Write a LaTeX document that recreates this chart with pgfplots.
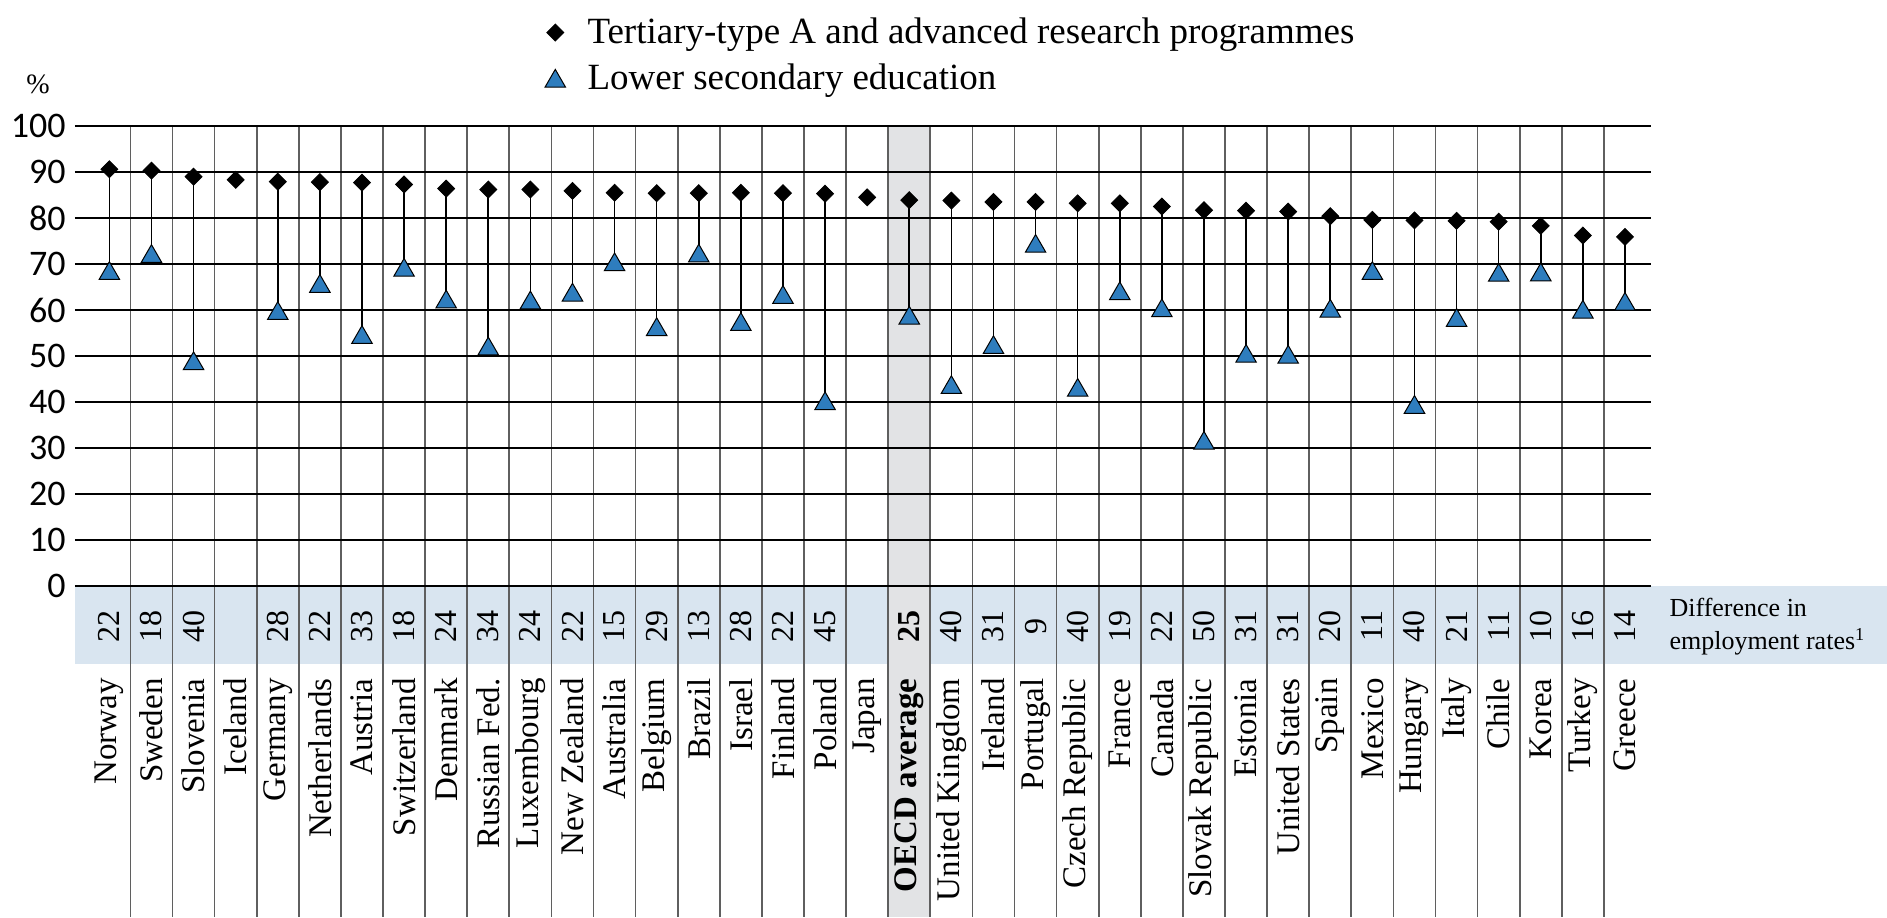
\documentclass[border=0pt]{standalone}
\usepackage{pgfplots}
\pgfplotsset{compat=1.18}
\usepackage{pgfplotstable}
\usepackage{fontspec}
\setmainfont{Liberation Serif}
\newfontfamily\tickfont{Carlito}
\definecolor{tri}{RGB}{46,125,190}
\definecolor{bandc}{RGB}{217,229,240}
\definecolor{colc}{RGB}{226,227,229}
\definecolor{sepc}{RGB}{95,95,95}

\pgfplotstableread{
x ter low diff
0 90.6 68.6 22
1 90.3 72.3 18
2 89.0 49.0 40
3 88.3 nan nan
4 87.9 59.9 28
5 87.8 65.8 22
6 87.7 54.7 33
7 87.3 69.3 18
8 86.4 62.4 24
9 86.2 52.2 34
10 86.2 62.2 24
11 85.9 63.9 22
12 85.5 70.5 15
13 85.4 56.4 29
14 85.4 72.4 13
15 85.5 57.5 28
16 85.4 63.4 22
17 85.3 40.3 45
18 84.5 nan nan
19 83.9 58.9 25
20 83.8 43.8 40
21 83.5 52.5 31
22 83.5 74.5 9
23 83.2 43.2 40
24 83.2 64.2 19
25 82.5 60.5 22
26 81.7 31.7 50
27 81.6 50.6 31
28 81.4 50.4 31
29 80.4 60.4 20
30 79.6 68.6 11
31 79.5 39.5 40
32 79.4 58.4 21
33 79.2 68.2 11
34 78.3 68.3 10
35 76.2 60.2 16
36 75.9 61.9 14
}\datatab

\begin{document}
\begin{tikzpicture}
\begin{axis}[
  set layers,
  scale only axis, width=788pt, height=230pt,
  xmin=-0.817, xmax=36.62, ymin=0, ymax=100,
  clip=false,
  axis line style={draw=none},
  major tick length=0pt,
  ytick={0,10,...,100},
  ymajorgrids,
  grid style={black, line width=1.1pt},
  xtick={0,...,36},
  xticklabels={Norway, Sweden, Slovenia, Iceland, Germany, Netherlands, Austria, Switzerland, Denmark, Russian Fed., Luxembourg, New Zealand, Australia, Belgium, Brazil, Israel, Finland, Poland, Japan, {\bfseries OECD average}, United Kingdom, Ireland, Portugal, Czech Republic, France, Canada, Slovak Republic, Estonia, United States, Spain, Mexico, Hungary, Italy, Chile, Korea, Turkey, Greece},
  xticklabel style={rotate=90, anchor=east, inner sep=0pt, font=\fontsize{16.5}{18}\selectfont},
  xticklabel shift=46pt,
  yticklabel style={font=\tickfont\fontsize{18}{20}\selectfont, inner sep=0pt},
  yticklabel shift=4.5pt,
  /pgf/number format/assume math mode=true,
  legend style={at={(0.298,1.244)}, anchor=north west, draw=none, fill=none,
    inner sep=0pt, row sep=4.5pt, font=\fontsize{18.5}{22}\selectfont,
    /tikz/every odd column/.append style={column sep=9pt}},
  legend cell align=left,
]
\begin{pgfonlayer}{axis background}
  \fill[bandc] (axis cs:-0.817,0) rectangle (axis cs:42.224,-16.96);
  \fill[colc] (axis cs:18.5,100) rectangle (axis cs:19.5,-71.96);
  \pgfplotsinvokeforeach{0,...,35}{
    \draw[sepc, line width=0.85pt] (axis cs:#1+0.5,100) -- (axis cs:#1+0.5,-71.96);
  }
\end{pgfonlayer}

\addplot[forget plot, draw=none, mark=none,
  error bars/.cd, y dir=plus, y explicit, error mark=none,
  error bar style={black, line width=0.8pt}]
  table[x=x, y=low, y error expr=\thisrow{ter}-\thisrow{low}] {\datatab};

\addplot[only marks, mark=square*, mark size=3pt,
  mark options={rotate=45, fill=black, draw=black}]
  table[x=x, y=ter] {\datatab};
\addlegendentry{Tertiary-type A and advanced research programmes}

\addplot[only marks, mark=triangle*, mark size=5.9pt,
  mark options={fill=tri, draw=black, line width=0.5pt, yshift=-1.5pt}]
  table[x=x, y=low] {\datatab};
\addlegendentry{Lower secondary education}

\addplot[forget plot, only marks, mark=*, mark size=0pt,
  mark options={draw opacity=0, fill opacity=0},
  point meta=explicit, nodes near coords,
  nodes near coords style={rotate=90, anchor=center, inner sep=0pt, text opacity=1, font=\fontsize{16}{18}\selectfont},
  x filter/.expression={x==19 ? nan : x}]
  table[x=x, y expr=\thisrow{diff}*0-8.7, meta=diff] {\datatab};

\addplot[forget plot, only marks, mark=*, mark size=0pt,
  mark options={draw opacity=0, fill opacity=0},
  point meta=explicit, nodes near coords,
  nodes near coords style={rotate=90, anchor=center, inner sep=0pt, text opacity=1, font=\bfseries\fontsize{16}{18}\selectfont},
  x filter/.expression={x==19 ? x : nan}]
  table[x=x, y expr=\thisrow{diff}*0-8.7, meta=diff] {\datatab};

\node[anchor=west, align=left, inner sep=0pt, font=\fontsize{13}{16.5}\selectfont]
  at (axis cs:37.05,-8.8) {Difference in\\employment rates\textsuperscript{1}};
\node[font=\fontsize{14}{16}\selectfont] at (axis cs:-1.696,109.1) {\%};

\coordinate (bbBL) at (axis cs:-2.598,-71.96);
\coordinate (bbTR) at (axis cs:42.224,127.4);
\end{axis}
\pgfresetboundingbox
\path[use as bounding box] (bbBL) rectangle (bbTR);
\end{tikzpicture}
\end{document}
